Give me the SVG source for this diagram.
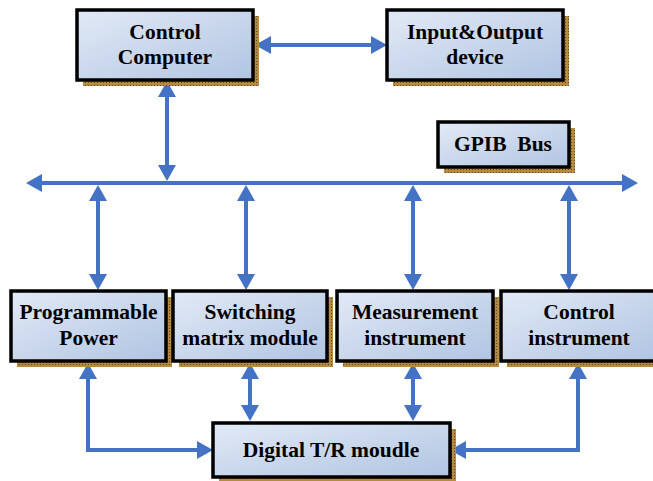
<svg xmlns="http://www.w3.org/2000/svg" width="653" height="481" viewBox="0 0 653 481">
  <defs>
    <linearGradient id="boxFill" x1="0" y1="0" x2="1" y2="1">
      <stop offset="0" stop-color="#e2eaf6"/>
      <stop offset="1" stop-color="#b0c4e2"/>
    </linearGradient>
    <pattern id="dots" width="3" height="3" patternUnits="userSpaceOnUse">
      <rect width="3" height="3" fill="#b88a3e"/>
      <rect x="1" y="1" width="1" height="1" fill="#5e4a2a"/>
    </pattern>
    <marker id="ah" markerUnits="userSpaceOnUse" markerWidth="16" markerHeight="18" refX="0" refY="9" orient="auto-start-reverse">
      <path d="M0,0 L16,9 L0,18 z" fill="#4472c4"/>
    </marker>
  </defs>
  <style>
    .shadow { fill: url(#dots); }
    .box { fill: url(#boxFill); stroke: #000; stroke-width: 3.5; }
    .lbl { font-family: 'Liberation Serif', 'Times New Roman', serif; font-weight: bold; font-size: 21.5px; fill: #000; text-anchor: middle; }
    .conn { fill: none; stroke: #4472c4; stroke-width: 4; marker-start: url(#ah); marker-end: url(#ah); }
  </style>

  <g id="connectors">
    <path class="conn" d="M42,183 H622"/>
    <path class="conn" d="M167,97 V165"/>
    <path class="conn" d="M271,45 H371"/>
    <path class="conn" d="M98,201 V274"/>
    <path class="conn" d="M246,201 V274"/>
    <path class="conn" d="M413,201 V274"/>
    <path class="conn" d="M569,201 V274"/>
    <path class="conn" d="M88,379 V450 H197"/>
    <path class="conn" d="M250,379 V405"/>
    <path class="conn" d="M413,379 V405"/>
    <path class="conn" d="M578,379 V450 H466"/>
  </g>

  <g id="control-computer">
    <rect class="shadow" x="83" y="16" width="176" height="70"/>
    <rect class="box" x="77" y="10" width="176" height="70"/>
    <text class="lbl" x="165" y="39">Control</text>
    <text class="lbl" x="165" y="64">Computer</text>
  </g>

  <g id="io-device">
    <rect class="shadow" x="393" y="16" width="176" height="70"/>
    <rect class="box" x="387" y="10" width="176" height="70"/>
    <text class="lbl" x="475" y="39">Input&amp;Output</text>
    <text class="lbl" x="475" y="64">device</text>
  </g>

  <g id="gpib-bus">
    <rect class="shadow" x="444" y="128" width="131" height="45"/>
    <rect class="box" x="438" y="122" width="131" height="45"/>
    <text class="lbl" x="503" y="151" xml:space="preserve">GPIB  Bus</text>
  </g>

  <g id="programmable-power">
    <rect class="shadow" x="17" y="297" width="155" height="70"/>
    <rect class="box" x="11" y="291" width="155" height="70"/>
    <text class="lbl" x="88.5" y="319">Programmable</text>
    <text class="lbl" x="88.5" y="345">Power</text>
  </g>

  <g id="switching-matrix">
    <rect class="shadow" x="179" y="297" width="154" height="70"/>
    <rect class="box" x="173" y="291" width="154" height="70"/>
    <text class="lbl" x="250" y="319">Switching</text>
    <text class="lbl" x="250" y="345">matrix module</text>
  </g>

  <g id="measurement-instrument">
    <rect class="shadow" x="343" y="297" width="156" height="70"/>
    <rect class="box" x="337" y="291" width="156" height="70"/>
    <text class="lbl" x="415" y="319">Measurement</text>
    <text class="lbl" x="415" y="345">instrument</text>
  </g>

  <g id="control-instrument">
    <rect class="shadow" x="507" y="297" width="155" height="70"/>
    <rect class="box" x="501" y="291" width="155" height="70"/>
    <text class="lbl" x="579" y="319">Control</text>
    <text class="lbl" x="579" y="345">instrument</text>
  </g>

  <g id="digital-tr-module">
    <rect class="shadow" x="219" y="429" width="237" height="54"/>
    <rect class="box" x="213" y="423" width="237" height="54"/>
    <text class="lbl" x="331" y="457">Digital T/R moudle</text>
  </g>
</svg>
